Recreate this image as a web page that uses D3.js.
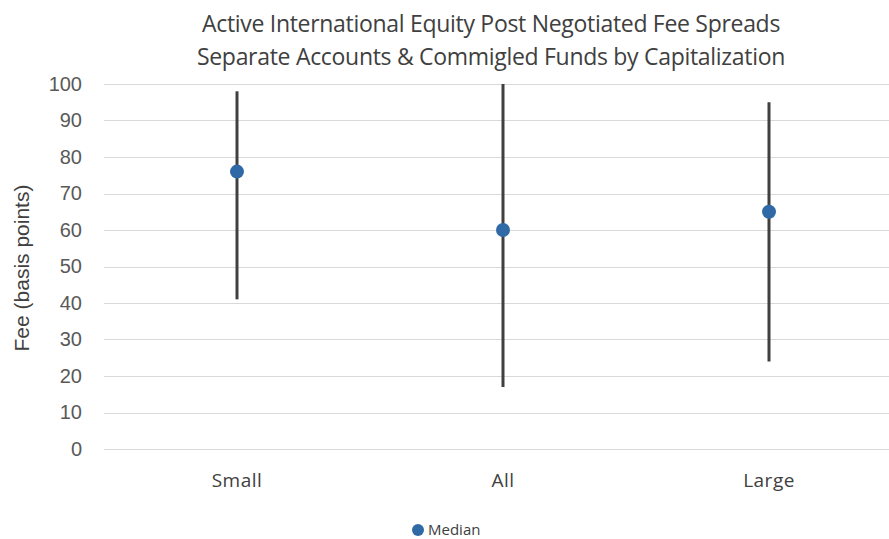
<!DOCTYPE html>
<html>
<head>
<meta charset="utf-8">
<script src="https://cdn.jsdelivr.net/npm/d3@7"></script>
<style>
  body { margin: 0; background: #fff; }
</style>
</head>
<body>
<div id="chart"></div>
<script>
// data
var categories = ["Small", "All", "Large"];
var lows = [41, 17, 24];
var highs = [98, 100, 95];
var medians = [76, 60, 65];
var yTicks = [0, 10, 20, 30, 40, 50, 60, 70, 80, 90, 100];
var titleLines = ["Active International Equity Post Negotiated Fee Spreads",
                  "Separate Accounts & Commigled Funds by Capitalization"];

var W = 889, H = 539;
var margin = {top: 84, right: -13, bottom: 90, left: 104},
    width = W - margin.left - margin.right,
    height = H - margin.top - margin.bottom;

var svg = d3.select("#chart")
  .append("svg")
    .attr("width", W)
    .attr("height", H);

var g = svg.append("g")
    .attr("transform", "translate(" + margin.left + "," + margin.top + ")");

// title
svg.append("g").selectAll("text")
  .data(titleLines)
  .enter().append("text")
    .attr("x", 491)
    .attr("y", function(d, i) { return 32 + i * 33; })
    .attr("text-anchor", "middle")
    .attr("font-family", "'Open Sans', sans-serif")
    .attr("font-size", 23)
    .attr("letter-spacing", -0.3)
    .attr("fill", "#404040")
    .text(function(d) { return d; });

// scales
var x = d3.scaleBand()
  .domain(categories)
  .range([0, width]);

var y = d3.scaleLinear()
  .domain([0, 100])
  .range([height, 0]);

// gridlines
g.append("g").selectAll("line")
  .data(yTicks)
  .enter().append("line")
    .attr("x1", 0)
    .attr("x2", W - margin.left)
    .attr("y1", function(d) { return Math.round(y(d)) + 0.5; })
    .attr("y2", function(d) { return Math.round(y(d)) + 0.5; })
    .attr("stroke", "#d9d9d9")
    .attr("stroke-width", 1);

// y axis labels
var yAxis = g.append("g")
  .call(d3.axisLeft(y).tickValues(yTicks).tickSize(0).tickPadding(22));
yAxis.select(".domain").remove();
yAxis.selectAll("text")
  .attr("font-family", "'Liberation Sans', Arial, sans-serif")
  .attr("font-size", 20)
  .attr("fill", "#595959");

// y axis title
svg.append("text")
  .attr("transform", "translate(29,268) rotate(-90)")
  .attr("text-anchor", "middle")
  .attr("font-family", "'Liberation Sans', Arial, sans-serif")
  .attr("font-size", 21)
  .attr("fill", "#404040")
  .text("Fee (basis points)");

// x axis labels
var xAxis = g.append("g")
  .attr("transform", "translate(0," + height + ")")
  .call(d3.axisBottom(x).tickSize(0).tickPadding(25));
xAxis.select(".domain").remove();
xAxis.selectAll("text")
  .attr("font-family", "'Open Sans', sans-serif")
  .attr("font-size", 19)
  .attr("letter-spacing", 0.5)
  .attr("fill", "#404040");

// range lines
g.append("g").selectAll("line")
  .data(categories)
  .enter().append("line")
    .attr("x1", function(d) { return x(d) + x.bandwidth() / 2; })
    .attr("x2", function(d) { return x(d) + x.bandwidth() / 2; })
    .attr("y1", function(d, i) { return y(highs[i]); })
    .attr("y2", function(d, i) { return y(lows[i]); })
    .attr("stroke", "#404040")
    .attr("stroke-width", 3);

// median points
g.append("g").selectAll("circle")
  .data(categories)
  .enter().append("circle")
    .attr("cx", function(d) { return x(d) + x.bandwidth() / 2; })
    .attr("cy", function(d, i) { return y(medians[i]); })
    .attr("r", 7)
    .attr("fill", "#2f69a6");

// legend
var legend = svg.append("g").attr("transform", "translate(418,530)");
legend.append("circle")
  .attr("r", 6)
  .attr("fill", "#2f69a6");
legend.append("text")
  .attr("x", 10)
  .attr("y", 5)
  .attr("font-family", "'Open Sans', sans-serif")
  .attr("font-size", 15)
  .attr("fill", "#404040")
  .text("Median");
</script>
</body>
</html>
